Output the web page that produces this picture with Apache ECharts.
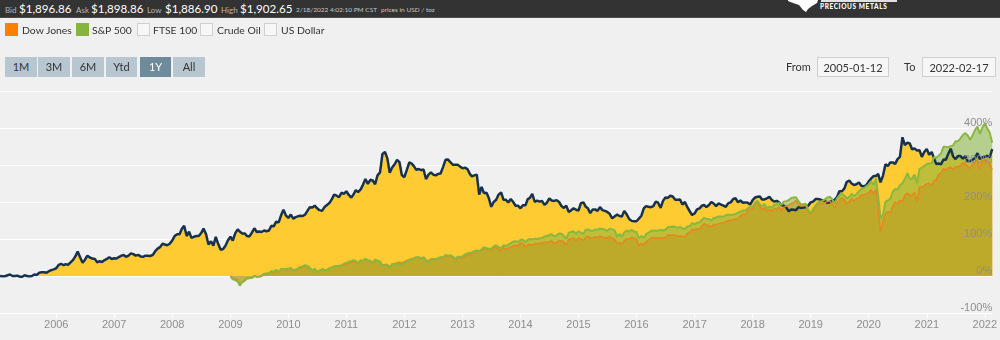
<!DOCTYPE html>
<html>
<head>
<meta charset="utf-8">
<script src="https://cdn.jsdelivr.net/npm/echarts@6/dist/echarts.min.js"></script>
<style>
  html,body{margin:0;padding:0;}
  body{width:1000px;height:340px;background:#f0f0f0;overflow:hidden;position:relative;font-family:Lato,"Open Sans",sans-serif;}
  #chart{position:absolute;left:0;top:0;width:1000px;height:340px;}
  .ov{position:absolute;white-space:nowrap;}
  #topbar{position:absolute;left:0;top:0;width:1000px;height:17px;background:#333333;border-bottom:1px solid #4a4a4a;overflow:hidden;}
  .lbl{color:#b5b5b5;font-size:8px;top:5px;line-height:10px;}
  .big{color:#ffffff;font-size:11.6px;top:1px;line-height:15px;}
  .tiny{color:#c8c8c8;font-size:6.5px;top:5.5px;line-height:8px;}
  .sq{position:absolute;top:23px;width:13px;height:13px;box-sizing:border-box;}
  .sq.off{background:#f7f7f7;border:1px solid #d0d0d0;}
  .lg{top:23px;font-size:10.4px;line-height:14px;color:#333;}
  .btn{position:absolute;top:57px;height:20px;line-height:20px;text-align:center;font-size:11px;color:#333;background:#b7c6cf;}
  .btn.on{background:#6f8a9a;color:#fff;}
  .box{position:absolute;top:57px;height:20px;line-height:20px;box-sizing:border-box;border:1px solid #cfcfcf;background:#f6f6f6;font-size:11px;color:#333;text-align:center;}
  .ft{top:60px;font-size:11px;line-height:14px;color:#333;}
</style>
</head>
<body>
<div id="chart"></div>

<div id="topbar">
  <span class="ov lbl" style="left:5px;">Bid</span>
  <span class="ov big" style="left:19px;">$1,896.86</span>
  <span class="ov lbl" style="left:76px;">Ask</span>
  <span class="ov big" style="left:91px;">$1,898.86</span>
  <span class="ov lbl" style="left:147px;">Low</span>
  <span class="ov big" style="left:165px;">$1,886.90</span>
  <span class="ov lbl" style="left:221px;">High</span>
  <span class="ov big" style="left:240px;">$1,902.65</span>
  <span class="ov tiny" style="left:296px;">2/18/2022 4:02:10 PM CST</span>
  <span class="ov tiny" style="left:381px;">prices in USD / toz</span>
  <svg class="ov" style="left:0;top:0;" width="1000" height="17">
    <polygon points="788,0 818,0 817,3 812,6 808,9 806,12 803,10 799,5 793,3 788,1" fill="#ffffff"/>
    <rect x="821" y="0" width="76" height="2" fill="#ffffff" opacity="0.85"/>
  </svg>
  <span class="ov" style="left:820px;top:3px;font-size:6.5px;font-weight:900;color:#fff;letter-spacing:0.6px;line-height:8px;">PRECIOUS METALS</span>
</div>

<div class="sq" style="left:5px;background:#ff8000;"></div>
<span class="ov lg" style="left:22px;">Dow Jones</span>
<div class="sq" style="left:76px;background:#87b43e;"></div>
<span class="ov lg" style="left:92px;">S&amp;P 500</span>
<div class="sq off" style="left:137px;"></div>
<span class="ov lg" style="left:153px;">FTSE 100</span>
<div class="sq off" style="left:200px;"></div>
<span class="ov lg" style="left:217px;">Crude Oil</span>
<div class="sq off" style="left:264px;"></div>
<span class="ov lg" style="left:281px;">US Dollar</span>

<div class="btn" style="left:5px;width:32px;">1M</div>
<div class="btn" style="left:38px;width:32px;">3M</div>
<div class="btn" style="left:72px;width:32px;">6M</div>
<div class="btn" style="left:106px;width:31px;">Ytd</div>
<div class="btn on" style="left:140px;width:31px;">1Y</div>
<div class="btn" style="left:173px;width:32px;">All</div>

<span class="ov ft" style="left:786px;">From</span>
<div class="box" style="left:817px;width:72px;">2005-01-12</div>
<span class="ov ft" style="left:904px;">To</span>
<div class="box" style="left:922px;width:74px;">2022-02-17</div>

<script>
// Semi-monthly sample dates (categories)
const dates = [
'2005-01-12','2005-02-01','2005-02-16','2005-03-01','2005-03-16','2005-04-01','2005-04-16','2005-05-01','2005-05-16','2005-06-01','2005-06-16','2005-07-01','2005-07-16','2005-08-01','2005-08-16','2005-09-01','2005-09-16','2005-10-01','2005-10-16','2005-11-01','2005-11-16','2005-12-01','2005-12-16',
'2006-01-01','2006-01-16','2006-02-01','2006-02-16','2006-03-01','2006-03-16','2006-04-01','2006-04-16','2006-05-01','2006-05-16','2006-06-01','2006-06-16','2006-07-01','2006-07-16','2006-08-01','2006-08-16','2006-09-01','2006-09-16','2006-10-01','2006-10-16','2006-11-01','2006-11-16','2006-12-01','2006-12-16',
'2007-01-01','2007-01-16','2007-02-01','2007-02-16','2007-03-01','2007-03-16','2007-04-01','2007-04-16','2007-05-01','2007-05-16','2007-06-01','2007-06-16','2007-07-01','2007-07-16','2007-08-01','2007-08-16','2007-09-01','2007-09-16','2007-10-01','2007-10-16','2007-11-01','2007-11-16','2007-12-01','2007-12-16',
'2008-01-01','2008-01-16','2008-02-01','2008-02-16','2008-03-01','2008-03-16','2008-04-01','2008-04-16','2008-05-01','2008-05-16','2008-06-01','2008-06-16','2008-07-01','2008-07-16','2008-08-01','2008-08-16','2008-09-01','2008-09-16','2008-10-01','2008-10-16','2008-11-01','2008-11-16','2008-12-01','2008-12-16',
'2009-01-01','2009-01-16','2009-02-01','2009-02-16','2009-03-01','2009-03-16','2009-04-01','2009-04-16','2009-05-01','2009-05-16','2009-06-01','2009-06-16','2009-07-01','2009-07-16','2009-08-01','2009-08-16','2009-09-01','2009-09-16','2009-10-01','2009-10-16','2009-11-01','2009-11-16','2009-12-01','2009-12-16',
'2010-01-01','2010-01-16','2010-02-01','2010-02-16','2010-03-01','2010-03-16','2010-04-01','2010-04-16','2010-05-01','2010-05-16','2010-06-01','2010-06-16','2010-07-01','2010-07-16','2010-08-01','2010-08-16','2010-09-01','2010-09-16','2010-10-01','2010-10-16','2010-11-01','2010-11-16','2010-12-01','2010-12-16',
'2011-01-01','2011-01-16','2011-02-01','2011-02-16','2011-03-01','2011-03-16','2011-04-01','2011-04-16','2011-05-01','2011-05-16','2011-06-01','2011-06-16','2011-07-01','2011-07-16','2011-08-01','2011-08-16','2011-09-01','2011-09-16','2011-10-01','2011-10-16','2011-11-01','2011-11-16','2011-12-01','2011-12-16',
'2012-01-01','2012-01-16','2012-02-01','2012-02-16','2012-03-01','2012-03-16','2012-04-01','2012-04-16','2012-05-01','2012-05-16','2012-06-01','2012-06-16','2012-07-01','2012-07-16','2012-08-01','2012-08-16','2012-09-01','2012-09-16','2012-10-01','2012-10-16','2012-11-01','2012-11-16','2012-12-01','2012-12-16',
'2013-01-01','2013-01-16','2013-02-01','2013-02-16','2013-03-01','2013-03-16','2013-04-01','2013-04-16','2013-05-01','2013-05-16','2013-06-01','2013-06-16','2013-07-01','2013-07-16','2013-08-01','2013-08-16','2013-09-01','2013-09-16','2013-10-01','2013-10-16','2013-11-01','2013-11-16','2013-12-01','2013-12-16',
'2014-01-01','2014-01-16','2014-02-01','2014-02-16','2014-03-01','2014-03-16','2014-04-01','2014-04-16','2014-05-01','2014-05-16','2014-06-01','2014-06-16','2014-07-01','2014-07-16','2014-08-01','2014-08-16','2014-09-01','2014-09-16','2014-10-01','2014-10-16','2014-11-01','2014-11-16','2014-12-01','2014-12-16',
'2015-01-01','2015-01-16','2015-02-01','2015-02-16','2015-03-01','2015-03-16','2015-04-01','2015-04-16','2015-05-01','2015-05-16','2015-06-01','2015-06-16','2015-07-01','2015-07-16','2015-08-01','2015-08-16','2015-09-01','2015-09-16','2015-10-01','2015-10-16','2015-11-01','2015-11-16','2015-12-01','2015-12-16',
'2016-01-01','2016-01-16','2016-02-01','2016-02-16','2016-03-01','2016-03-16','2016-04-01','2016-04-16','2016-05-01','2016-05-16','2016-06-01','2016-06-16','2016-07-01','2016-07-16','2016-08-01','2016-08-16','2016-09-01','2016-09-16','2016-10-01','2016-10-16','2016-11-01','2016-11-16','2016-12-01','2016-12-16',
'2017-01-01','2017-01-16','2017-02-01','2017-02-16','2017-03-01','2017-03-16','2017-04-01','2017-04-16','2017-05-01','2017-05-16','2017-06-01','2017-06-16','2017-07-01','2017-07-16','2017-08-01','2017-08-16','2017-09-01','2017-09-16','2017-10-01','2017-10-16','2017-11-01','2017-11-16','2017-12-01','2017-12-16',
'2018-01-01','2018-01-16','2018-02-01','2018-02-16','2018-03-01','2018-03-16','2018-04-01','2018-04-16','2018-05-01','2018-05-16','2018-06-01','2018-06-16','2018-07-01','2018-07-16','2018-08-01','2018-08-16','2018-09-01','2018-09-16','2018-10-01','2018-10-16','2018-11-01','2018-11-16','2018-12-01','2018-12-16',
'2019-01-01','2019-01-16','2019-02-01','2019-02-16','2019-03-01','2019-03-16','2019-04-01','2019-04-16','2019-05-01','2019-05-16','2019-06-01','2019-06-16','2019-07-01','2019-07-16','2019-08-01','2019-08-16','2019-09-01','2019-09-16','2019-10-01','2019-10-16','2019-11-01','2019-11-16','2019-12-01','2019-12-16',
'2020-01-01','2020-01-16','2020-02-01','2020-02-16','2020-03-01','2020-03-16','2020-04-01','2020-04-16','2020-05-01','2020-05-16','2020-06-01','2020-06-16','2020-07-01','2020-07-16','2020-08-01','2020-08-16','2020-09-01','2020-09-16','2020-10-01','2020-10-16','2020-11-01','2020-11-16','2020-12-01','2020-12-16',
'2021-01-01','2021-01-16','2021-02-01','2021-02-16','2021-03-01','2021-03-16','2021-04-01','2021-04-16','2021-05-01','2021-05-16','2021-06-01','2021-06-16','2021-07-01','2021-07-16','2021-08-01','2021-08-16','2021-09-01','2021-09-16','2021-10-01','2021-10-16','2021-11-01','2021-11-16','2021-12-01','2021-12-16',
'2022-01-01','2022-01-16','2022-02-01','2022-02-17'
];

// Gold, % change since 2005-01-12
const gold = [
0,-1,0,2,4,0,0,1,-2,-2,2,0,-1,0,4,3,9,10,10,9,13,16,18,
21,30,33,29,32,30,37,43,53,66,50,36,44,55,50,47,46,37,40,38,43,46,51,46,
48,47,52,55,57,52,55,61,59,55,57,53,52,55,55,54,57,67,74,78,87,85,83,87,
96,108,113,113,127,136,108,120,103,106,108,108,116,128,113,85,94,82,106,87,71,73,82,96,
106,96,116,126,120,115,115,108,107,117,129,119,120,119,123,121,123,136,134,147,145,164,179,164,
157,166,155,159,161,163,162,166,176,186,185,190,183,178,176,186,192,197,207,220,217,213,225,222,
229,219,212,221,232,227,234,247,262,249,260,258,248,272,280,330,335,318,279,293,302,314,308,273,
267,286,307,304,297,287,289,286,288,262,274,280,274,272,276,277,295,314,315,308,301,301,301,296,
291,293,289,276,269,272,274,220,241,224,225,210,187,200,206,220,226,206,206,199,208,200,190,190,
183,191,191,208,211,222,200,204,201,203,192,198,210,204,203,205,200,189,184,190,173,178,183,179,
177,197,199,187,183,170,180,180,176,186,178,176,173,168,156,161,166,162,161,176,166,154,149,148,
148,155,163,183,189,187,186,189,201,198,184,203,212,211,217,215,206,206,207,193,200,186,175,165,
169,180,183,190,192,186,192,200,196,189,196,193,190,187,197,199,208,210,199,204,198,199,198,193,
205,212,214,215,207,207,210,214,206,201,203,199,192,190,185,175,180,179,178,186,184,185,186,190,
199,201,208,208,207,204,203,198,199,203,206,213,229,229,236,254,258,250,246,248,253,244,242,245,
255,263,270,270,276,253,272,302,297,307,307,303,316,322,375,354,360,358,342,345,339,340,322,335,
343,328,335,318,303,304,302,315,314,330,344,323,316,324,324,317,324,310,311,314,319,332,316,321,
322,325,321,343
];

// S&P 500, % change since start of 2009
const sp500 = [
0,-9,-11,-15,-26,-17,-13,-7,-6,-5,1,-2,-1,1,6,7,7,14,11,17,11,19,19,19,
20,22,15,18,20,25,26,29,27,22,15,20,10,14,18,16,16,21,23,26,27,27,29,33,
35,39,40,43,41,35,43,41,46,43,41,36,44,41,39,28,29,30,21,32,31,33,34,30,
35,39,42,45,47,51,51,47,50,42,37,44,46,45,48,51,51,57,55,56,53,46,52,52,
53,58,61,63,63,67,69,67,72,78,75,74,73,80,83,78,75,83,81,85,89,93,94,92,
98,98,91,98,100,99,101,100,102,102,107,108,111,113,107,110,115,114,109,100,117,119,121,114,
121,117,114,125,126,123,122,126,125,128,127,125,122,128,126,124,106,114,106,118,123,120,125,120,
119,102,108,103,113,117,122,123,122,122,125,123,125,132,133,134,133,130,133,129,127,134,135,143,
140,144,145,152,157,155,154,150,157,158,161,161,160,164,166,165,166,168,171,174,177,177,183,187,
187,198,203,193,188,195,183,188,184,192,194,198,192,201,202,205,211,212,213,202,194,194,196,179,
169,181,190,198,201,203,207,212,214,208,195,210,218,223,217,210,214,222,216,221,229,235,237,242,
247,256,246,263,217,156,165,201,204,208,228,235,234,245,251,262,278,263,263,274,251,289,293,297,
303,304,305,322,319,325,331,349,349,348,351,353,364,364,372,381,386,380,368,380,395,404,384,401,
412,400,388,360
];

// Dow Jones, % change since start of 2009
const dowJones = [
0,-6,-9,-10,-25,-16,-12,-7,-6,-6,-1,-3,-3,-1,4,6,8,12,8,14,11,18,19,19,
19,21,15,17,18,22,24,26,25,21,15,18,11,15,19,17,17,21,23,26,27,26,28,31,
32,34,37,40,37,34,41,41,46,43,40,36,43,42,38,30,31,31,24,33,33,36,37,35,
39,42,44,47,48,51,50,47,51,44,41,46,47,45,48,51,49,55,53,54,49,44,48,50,
49,54,58,59,60,65,66,68,69,74,72,72,70,76,77,72,69,77,72,75,78,82,83,81,
89,87,79,84,86,83,88,87,89,88,91,91,92,95,88,90,95,95,92,84,98,101,103,95,
103,100,96,105,107,102,103,106,103,108,105,104,102,107,102,99,88,91,86,95,101,99,104,102,
99,82,88,85,92,97,102,104,103,102,103,102,104,111,110,111,110,107,109,107,106,115,118,126,
125,127,127,135,141,139,135,133,139,139,141,144,143,147,150,151,151,154,155,162,167,167,176,181,
182,194,198,187,180,184,175,180,175,182,181,186,177,186,189,191,196,198,204,194,189,190,191,175,
166,176,186,195,197,195,199,201,203,195,183,197,205,211,206,195,201,209,203,208,212,219,220,222,
225,233,222,235,190,118,150,168,174,170,189,200,194,205,201,218,224,219,217,226,202,241,240,244,
249,251,244,259,259,274,278,290,286,292,294,288,295,295,298,306,302,296,291,302,309,312,288,309,
314,309,303,288
];

const tickYears = [2006,2007,2008,2009,2010,2011,2012,2013,2014,2015,2016,2017,2018,2019,2020,2021,2022];

const toTs = d => Date.UTC(+d.slice(0, 4), +d.slice(5, 7) - 1, +d.slice(8, 10));
const goldData = dates.map((d, i) => [toTs(d), gold[i]]);
const spStart = dates.length - sp500.length;
const spData = sp500.map((v, i) => [toTs(dates[spStart + i]), v]);
const djStart = dates.length - dowJones.length;
const djData = dowJones.map((v, i) => [toTs(dates[djStart + i]), v]);
const yearStamps = tickYears.map(y => Date.UTC(y, 0, 1));
const yearOf = {};
tickYears.forEach((y, i) => { yearOf[yearStamps[i]] = String(y); });

const labelStyle = {color: '#8e8e8e', fontSize: 11, fontFamily: 'Liberation Sans, Arial, sans-serif'};

const chart = echarts.init(document.getElementById('chart'), null, {renderer: 'canvas'});
chart.setOption({
  animation: false,
  backgroundColor: 'transparent',
  grid: {left: 0, right: 3, top: 91, bottom: 27, containLabel: false},
  xAxis: {
    type: 'value',
    min: toTs(dates[0]),
    max: toTs(dates[dates.length - 1]),
    axisLine: {show: true, onZero: false, lineStyle: {color: '#ffffff', width: 1}},
    axisTick: {show: true, customValues: yearStamps, length: 5, lineStyle: {color: '#ffffff'}},
    axisLabel: Object.assign({customValues: yearStamps, formatter: v => yearOf[v] || '', margin: 6}, labelStyle),
    splitLine: {show: false}
  },
  yAxis: [
    {
      type: 'value', position: 'right',
      min: -100, max: 500, interval: 100,
      axisLine: {show: false}, axisTick: {show: false}, axisLabel: {show: false},
      splitLine: {show: true, lineStyle: {color: '#ffffff', width: 1}}
    },
    {
      type: 'value', position: 'right', z: 10,
      min: -100, max: 500, interval: 100,
      axisLine: {show: false}, axisTick: {show: false},
      splitLine: {show: false},
      axisLabel: Object.assign({
        inside: true, margin: 0, align: 'right', verticalAlign: 'bottom',
        formatter: v => v === 500 ? '' : v + '%'
      }, labelStyle)
    }
  ],
  series: [
    {
      name: 'Gold', type: 'line', data: goldData, showSymbol: false,
      lineStyle: {color: '#17324f', width: 2.5},
      itemStyle: {color: '#17324f'},
      areaStyle: {color: '#ffcb33', opacity: 1}
    },
    {
      name: 'Dow Jones', type: 'line', data: djData, showSymbol: false,
      lineStyle: {color: '#e8861c', width: 1.5},
      itemStyle: {color: '#ff8000'},
      areaStyle: {color: '#ff8000', opacity: 0.6}
    },
    {
      name: 'S&P 500', type: 'line', data: spData, showSymbol: false,
      lineStyle: {color: '#8ab741', width: 2},
      itemStyle: {color: '#87b43e'},
      areaStyle: {color: '#87b43e', opacity: 0.55}
    }
  ]
});
</script>
</body>
</html>
